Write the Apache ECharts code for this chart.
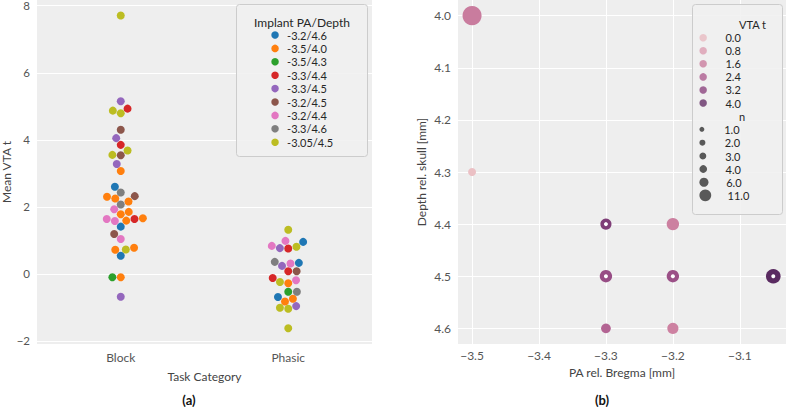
<!DOCTYPE html>
<html><head><meta charset="utf-8">
<script src="https://cdn.jsdelivr.net/npm/echarts@6/dist/echarts.min.js"></script>
<style>html,body{margin:0;padding:0;background:#fff}#c{width:786px;height:407px}</style>
</head><body><div id="c"></div>
<script>
// ---------------- data ----------------
const categories = ['Block', 'Phasic'];
const groups = ['-3.2/4.6', '-3.5/4.0', '-3.5/4.3', '-3.3/4.4', '-3.3/4.5', '-3.2/4.5', '-3.2/4.4', '-3.3/4.6', '-3.05/4.5'];
// Mean VTA t per implant, Block task
const blockValues = [
  [2.60, 1.41, 0.54],
  [3.07, 2.30, 2.25, 2.16, 1.85, 1.78, 1.66, 1.59, 0.78, 0.72, -0.10],
  [-0.10],
  [4.93, 3.85, 1.64],
  [5.15, 4.05, 3.28, -0.68],
  [4.30, 3.54, 2.32, 1.19],
  [1.93, 1.64, 1.58, 1.04],
  [2.43, 2.07],
  [7.71, 4.87, 4.79, 3.68, 3.55, 0.73]
];
// Mean VTA t per implant, Phasic task
const phasicValues = [
  [0.955, 0.33, -0.69],
  [-0.28, -0.74, -0.82],
  [-0.53],
  [0.76, 0.08, -0.12],
  [0.77, 0.24, -0.96],
  [0.08],
  [0.985, 0.836, 0.31, -0.19],
  [0.36, -0.53],
  [1.32, 0.81, -0.24, -1.01, -1.04, -1.62]
];
// implants drawn as rings in panel (b)
const ringGroups = ['-3.3/4.4', '-3.3/4.5', '-3.2/4.5', '-3.05/4.5'];
const hueLegendValues = [0.0, 0.8, 1.6, 2.4, 3.2, 4.0];
const sizeLegendValues = [1, 2, 3, 4, 6, 11];

// ---------------- style ----------------
const FONT = 'Lato';
const groupColors = ['#1f77b4', '#ff7f0e', '#2ca02c', '#d62728', '#9467bd', '#8c564b', '#e377c2', '#7f7f7f', '#bcbd22'];
const hueStopColors = [[233, 188, 194], [220, 158, 178], [203, 126, 159], [174, 94, 144], [140, 69, 128], [101, 49, 104]];
const BG = '#eeeeee';
const TICK = '#555555';

function hueColor(v) {
  const s = hueLegendValues;
  let i = 0;
  while (i < s.length - 2 && v > s[i + 1]) i++;
  const t = (v - s[i]) / (s[i + 1] - s[i]);
  const a = hueStopColors[i], b = hueStopColors[i + 1];
  const c = a.map((x, k) => Math.max(0, Math.min(255, Math.round(x + (b[k] - x) * t))));
  return 'rgb(' + c.join(',') + ')';
}
function plotSize(n) { return Math.sqrt(64 + 30 * (n - 1)); }
function legendSize(n) { return 0.62 * plotSize(n); }
function fmtNum(v, d) {
  const s = Math.abs(v).toFixed(d);
  return (v < -1e-9 ? '\u2212' : '') + s;
}

// panel (b) data derived from the Block values
const implantPA = groups.map(g => parseFloat(g.split('/')[0]));
const implantDepth = groups.map(g => parseFloat(g.split('/')[1]));
const implantN = blockValues.map(a => a.length);
const implantMean = blockValues.map(a => a.reduce((s, x) => s + x, 0) / a.length);

const chart = echarts.init(document.getElementById('c'), null, { renderer: 'svg' });

const axisLabelStyle = { color: TICK, fontSize: 12, fontFamily: FONT };
const nameStyle = { color: '#444', fontSize: 12, fontFamily: FONT };
const splitLineStyle = { show: true, showMinLine: false, showMaxLine: false, lineStyle: { color: '#ffffff', width: 1 } };

const hueNames = hueLegendValues.map(v => v.toFixed(1));
const sizeNames = sizeLegendValues.map(v => 'n ' + v.toFixed(1));

function buildSeries(swarmData) {
  const series = [];
  groups.forEach((g, gi) => {
    series.push({
      name: g, type: 'scatter', xAxisIndex: 1, yAxisIndex: 0,
      symbolSize: 8, itemStyle: { color: groupColors[gi], opacity: 1 },
      data: swarmData ? swarmData[gi] : [], z: 2
    });
  });
  series.push({
    name: 'implants', type: 'scatter', xAxisIndex: 2, yAxisIndex: 1,
    data: groups.map((g, i) => [implantPA[i], implantDepth[i], implantMean[i], implantN[i]]),
    symbolSize: v => plotSize(v[3]),
    itemStyle: { color: p => hueColor(p.data[2]), opacity: 1 }, z: 2
  });
  series.push({
    name: 'rings', type: 'scatter', xAxisIndex: 2, yAxisIndex: 1,
    data: groups.map((g, i) => ringGroups.includes(g) ? [implantPA[i], implantDepth[i]] : null).filter(d => d),
    symbolSize: 4, itemStyle: { color: '#ffffff', opacity: 1 }, z: 3
  });
  hueLegendValues.forEach((v, i) => series.push({
    name: hueNames[i], type: 'scatter', xAxisIndex: 2, yAxisIndex: 1, data: [],
    itemStyle: { color: hueColor(v) }
  }));
  sizeLegendValues.forEach((v, i) => series.push({
    name: sizeNames[i], type: 'scatter', xAxisIndex: 2, yAxisIndex: 1, data: [],
    itemStyle: { color: '#333333' }
  }));
  return series;
}

const legendText = { fontSize: 11, lineHeight: 13, fontFamily: FONT, color: '#262626' };
const legends = [
  { data: groups, orient: 'vertical', left: 271.3, top: 28.5, itemWidth: 14, itemHeight: 7.5,
    itemGap: 0.4, icon: 'circle', selectedMode: false, textStyle: legendText, padding: 0 },
  { data: hueNames, orient: 'vertical', left: 699.4, top: 31.2, itemWidth: 34.6, itemHeight: 7.5,
    itemGap: 0.06, icon: 'circle', selectedMode: false, textStyle: legendText, padding: 0 }
];
const sizeRows = [129.3, 142.7, 156, 169, 182.3, 195.3];
sizeLegendValues.forEach((v, i) => legends.push({
  data: [sizeNames[i]], orient: 'vertical', left: 699.4, top: sizeRows[i] - 6.5,
  itemWidth: 34.6, itemHeight: legendSize(v), icon: 'circle', selectedMode: false,
  textStyle: legendText, padding: 0, formatter: n => n.replace('n ', '')
}));

const option = {
  animation: false,
  backgroundColor: '#ffffff',
  textStyle: { fontFamily: FONT },
  grid: [
    { left: 37, top: 0, width: 335, height: 344, show: true, backgroundColor: BG, borderWidth: 0, outerBoundsMode: 'none', containLabel: false },
    { left: 458, top: 0, width: 328, height: 344, show: true, backgroundColor: BG, borderWidth: 0, outerBoundsMode: 'none', containLabel: false }
  ],
  xAxis: [
    { type: 'category', gridIndex: 0, data: categories, boundaryGap: true,
      axisLine: { show: false }, axisTick: { show: false }, splitLine: { show: false },
      axisLabel: Object.assign({ margin: 7 }, axisLabelStyle),
      name: 'Task Category', nameLocation: 'middle', nameGap: 26, nameTextStyle: nameStyle },
    { type: 'value', gridIndex: 0, min: -0.5, max: 1.5, show: false },
    { type: 'value', gridIndex: 1, min: -3.521, max: -3.031, splitNumber: 5, minInterval: 0.1, maxInterval: 0.1,
      axisLine: { show: false }, axisTick: { show: false }, splitLine: splitLineStyle,
      axisLabel: Object.assign({ margin: 5, showMinLabel: false, showMaxLabel: false, formatter: v => fmtNum(v, 1) }, axisLabelStyle),
      name: 'PA rel. Bregma [mm]', nameLocation: 'middle', nameGap: 22, nameTextStyle: nameStyle }
  ],
  yAxis: [
    { type: 'value', gridIndex: 0, min: -2.09, max: 8.17, splitNumber: 5, minInterval: 2, maxInterval: 2,
      axisLine: { show: false }, axisTick: { show: false }, splitLine: splitLineStyle,
      axisLabel: Object.assign({ margin: 7, showMinLabel: false, showMaxLabel: false, formatter: v => fmtNum(v, 0) },
        axisLabelStyle, { fontSize: 11.5, lineHeight: 11 }),
      name: 'Mean VTA t', nameLocation: 'middle', nameGap: 22, nameTextStyle: nameStyle },
    { type: 'value', gridIndex: 1, inverse: true, min: 3.970, max: 4.630, splitNumber: 6, minInterval: 0.1, maxInterval: 0.1,
      axisLine: { show: false }, axisTick: { show: false }, splitLine: splitLineStyle,
      axisLabel: Object.assign({ margin: 7, showMinLabel: false, showMaxLabel: false, formatter: v => fmtNum(v, 1) }, axisLabelStyle),
      name: 'Depth rel. skull [mm]', nameLocation: 'middle', nameGap: 31, nameTextStyle: nameStyle }
  ],
  legend: legends,
  graphic: [
    { type: 'rect', z: 3, shape: { x: 236.5, y: 4.5, width: 131, height: 152, r: 3 },
      style: { fill: 'rgba(240,240,240,0.85)', stroke: '#cccccc', lineWidth: 1 } },
    { type: 'text', z: 5, x: 302, y: 22, style: { text: 'Implant PA/Depth', fontSize: 12, fontFamily: FONT, fill: '#262626', textAlign: 'center', textVerticalAlign: 'middle' } },
    { type: 'rect', z: 3, shape: { x: 692.5, y: 4.5, width: 90, height: 210, r: 3 },
      style: { fill: 'rgba(240,240,240,0.85)', stroke: '#cccccc', lineWidth: 1 } },
    { type: 'text', z: 5, x: 739, y: 24, style: { text: 'VTA t', fontSize: 11, fontFamily: FONT, fill: '#262626', textAlign: 'left', textVerticalAlign: 'middle' } },
    { type: 'text', z: 5, x: 739, y: 116, style: { text: 'n', fontSize: 11, fontFamily: FONT, fill: '#262626', textAlign: 'left', textVerticalAlign: 'middle' } },
    { type: 'text', z: 5, x: 189, y: 400, style: { text: '(a)', fontSize: 13, fontWeight: 'bold', fontFamily: FONT, fill: '#111', textAlign: 'center', textVerticalAlign: 'middle' } },
    { type: 'text', z: 5, x: 602, y: 400, style: { text: '(b)', fontSize: 13, fontWeight: 'bold', fontFamily: FONT, fill: '#111', textAlign: 'center', textVerticalAlign: 'middle' } }
  ],
  series: buildSeries(null)
};
chart.setOption(option);

// ---------- beeswarm placement (seaborn-like), in pixel space ----------
const R = 4;
function swarm(points, xc) {
  const order = points.map((p, i) => i).sort((a, b) => (points[a].v - points[b].v) || (a - b));
  const placed = [];
  const result = new Array(points.length);
  order.forEach(idx => {
    const yi = points[idx].py;
    const neighbors = [];
    for (let k = placed.length - 1; k >= 0; k--) {
      if (Math.abs(yi - placed[k].y) < 2 * R) neighbors.push(placed[k]); else break;
    }
    neighbors.reverse();
    let cands = [{ x: xc, o: 0 }];
    let leftFirst = true;
    neighbors.forEach(n => {
      const dy = yi - n.y;
      const dx = Math.sqrt(Math.max(4 * R * R - dy * dy, 0)) * 1.05;
      const cl = n.x - dx, cr = n.x + dx;
      const pair = leftFirst ? [cl, cr] : [cr, cl];
      pair.forEach(x => cands.push({ x: x, o: Math.abs(x - xc) }));
      leftFirst = !leftFirst;
    });
    cands = cands.map((c, i) => ({ x: c.x, o: c.o, i })).sort((a, b) => (a.o - b.o) || (a.i - b.i));
    let chosen = cands[0].x;
    for (const c of cands) {
      let ok = true;
      for (const n of neighbors) {
        const ddx = n.x - c.x, ddy = n.y - yi;
        if (ddx * ddx + ddy * ddy < 4 * R * R - 1e-6) { ok = false; break; }
      }
      if (ok) { chosen = c.x; break; }
    }
    placed.push({ x: chosen, y: yi });
    result[idx] = chosen;
  });
  return result;
}

const swarmData = groups.map(() => []);
[blockValues, phasicValues].forEach((vals, ci) => {
  const xc = chart.convertToPixel({ xAxisIndex: 1 }, ci);
  const pts = [];
  vals.forEach((arr, gi) => arr.forEach(v => pts.push({ gi, v, py: chart.convertToPixel({ yAxisIndex: 0 }, v) })));
  const xs = swarm(pts, xc);
  pts.forEach((p, i) => {
    swarmData[p.gi].push([chart.convertFromPixel({ xAxisIndex: 1 }, xs[i]), p.v]);
  });
});
chart.setOption({ series: buildSeries(swarmData) });
</script>
</body></html>
